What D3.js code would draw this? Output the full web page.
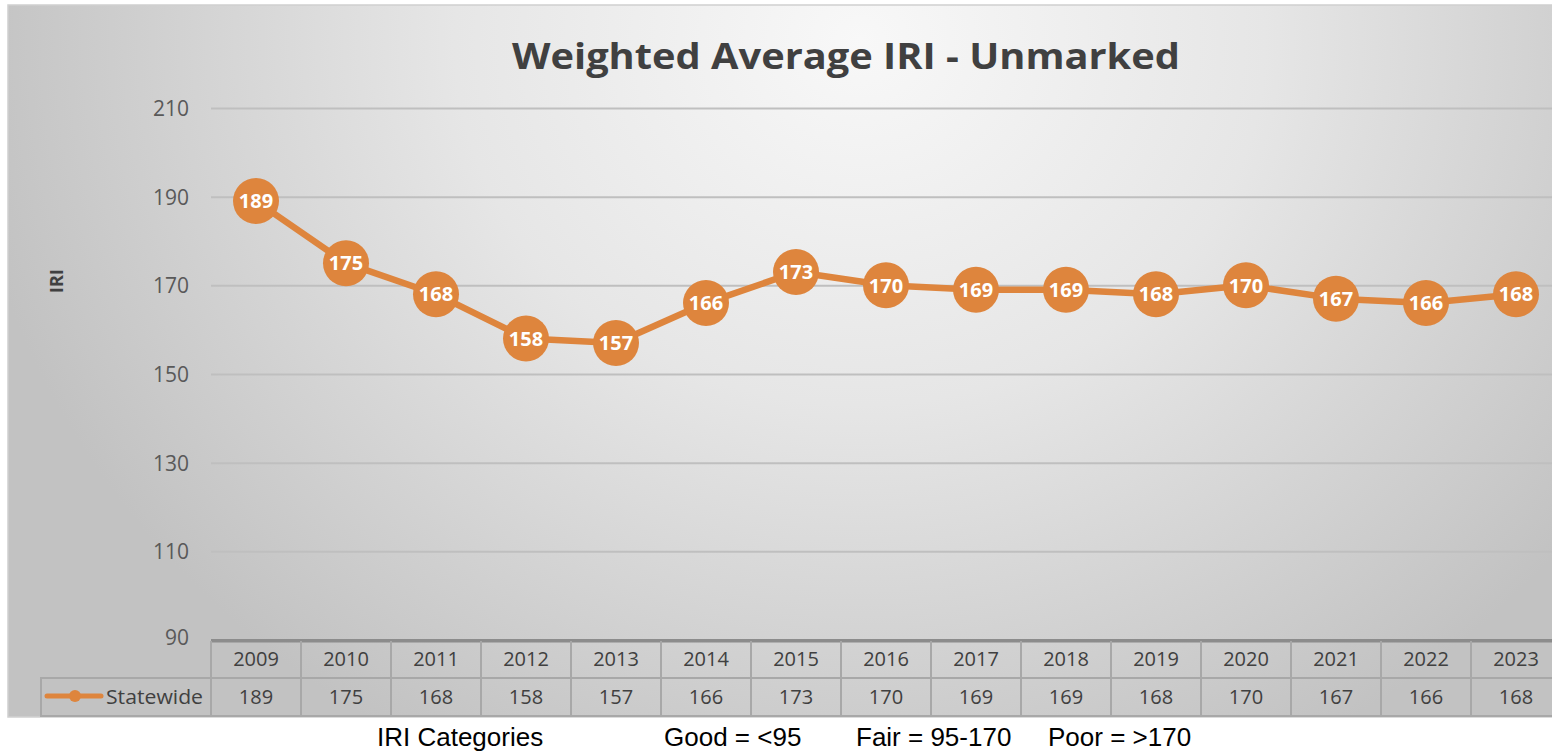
<!DOCTYPE html>
<html>
<head>
<meta charset="utf-8">
<script src="https://cdn.jsdelivr.net/npm/d3@7/dist/d3.min.js"></script>
<style>
  html, body { margin: 0; padding: 0; background: #ffffff; overflow: hidden; }
  svg { display: block; }
</style>
</head>
<body>
<svg id="chart" width="1552" height="752"></svg>
<script>
const title = "Weighted Average IRI - Unmarked";
const years = ["2009","2010","2011","2012","2013","2014","2015","2016","2017","2018","2019","2020","2021","2022","2023"];
const statewide = [189,175,168,158,157,166,173,170,169,169,168,170,167,166,168];
const seriesName = "Statewide";
const yTicks = [90,110,130,150,170,190,210];
const yAxisLabel = "IRI";
const footnotes = [
  {text: "IRI Categories", x: 377},
  {text: "Good = <95", x: 664},
  {text: "Fair = 95-170", x: 856},
  {text: "Poor = >170", x: 1048}
];

const svg = d3.select("#chart");
const W = 1552, H = 752;
const orange = "#DE853D";

// background gradient
const defs = svg.append("defs");
const rg = defs.append("radialGradient")
  .attr("id", "bg").attr("gradientUnits", "userSpaceOnUse")
  .attr("cx", 860).attr("cy", 40).attr("r", 900)
  .attr("gradientTransform", "translate(860,40) scale(1,0.9) translate(-860,-40)");
rg.append("stop").attr("offset", "0").attr("stop-color", "#f8f8f8");
rg.append("stop").attr("offset", "0.45").attr("stop-color", "#e6e6e6");
rg.append("stop").attr("offset", "1").attr("stop-color", "#c2c2c2");

svg.append("rect").attr("x", 0).attr("y", 0).attr("width", W).attr("height", H).attr("fill", "#ffffff");
svg.append("rect").attr("x", 8).attr("y", 5).attr("width", W).attr("height", 712)
  .attr("fill", "url(#bg)").attr("stroke", "#d0d0d0").attr("stroke-width", 1.5);

// scales
const x = d3.scaleBand().domain(years).range([211, 1561]).padding(0);
const y = d3.scaleLinear().domain([90, 210]).range([640, 108]);
const cx = d => x(d) + x.bandwidth() / 2;

// title
svg.append("text")
  .attr("x", 846).attr("y", 69)
  .attr("text-anchor", "middle")
  .attr("font-family", "'Open Sans', sans-serif")
  .attr("font-weight", "bold")
  .attr("font-size", 36)
  .attr("fill", "#404040")
  .attr("textLength", 668).attr("lengthAdjust", "spacingAndGlyphs")
  .text(title);

// gridlines via axis
const yAxis = d3.axisLeft(y).tickValues(yTicks).tickSize(-(1561 - 211)).tickPadding(22);
const gy = svg.append("g").attr("transform", "translate(211,0)").call(yAxis);
gy.select(".domain").remove();
gy.selectAll(".tick line").attr("stroke", "#bfbfbf").attr("stroke-width", 2)
  .filter(d => d === 90).attr("stroke", "#8c8c8c").attr("stroke-width", 3);
gy.selectAll(".tick text")
  .attr("x", -22)
  .attr("font-family", "'Open Sans', sans-serif")
  .attr("font-size", 21)
  .attr("fill", "#595959")
  .attr("dy", "0.36em");
gy.selectAll(".tick").filter(d => d === 90).select("text").attr("dy", "0.2em");

// y axis label
svg.append("text")
  .attr("transform", "translate(63,281) rotate(-90)")
  .attr("text-anchor", "middle")
  .attr("font-family", "'Open Sans', sans-serif")
  .attr("font-weight", "bold")
  .attr("font-size", 18)
  .attr("fill", "#404040")
  .text(yAxisLabel);

// line
const data = years.map((yr, i) => ({year: yr, value: statewide[i]}));
const line = d3.line().x(d => cx(d.year)).y(d => y(d.value));
svg.append("path").datum(data)
  .attr("d", line).attr("fill", "none")
  .attr("stroke", orange).attr("stroke-width", 6.5)
  .attr("stroke-linejoin", "round");

const pts = svg.append("g").selectAll("g").data(data).join("g")
  .attr("transform", d => `translate(${cx(d.year)},${y(d.value)})`);
pts.append("circle").attr("r", 23).attr("fill", orange);
pts.append("text")
  .attr("text-anchor", "middle").attr("dy", "0.36em")
  .attr("font-family", "'Open Sans', sans-serif")
  .attr("font-weight", "bold").attr("font-size", 20)
  .attr("fill", "#ffffff")
  .text(d => d.value);

// data table
const tableTop = 641, rowMid = 678, tableBot = 716;
const tg = svg.append("g");
const borderCol = "#a8a8a8";
tg.append("line").attr("x1", 211).attr("x2", 1561).attr("y1", tableTop).attr("y2", tableTop)
  .attr("stroke", "#8c8c8c").attr("stroke-width", 3);
tg.append("line").attr("x1", 40).attr("x2", 1561).attr("y1", rowMid).attr("y2", rowMid)
  .attr("stroke", borderCol).attr("stroke-width", 2);
tg.append("line").attr("x1", 40).attr("x2", 1561).attr("y1", tableBot).attr("y2", tableBot)
  .attr("stroke", borderCol).attr("stroke-width", 2);
tg.selectAll("line.v").data(years.concat(["end"])).join("line").attr("class", "v")
  .attr("x1", (d, i) => 211 + i * x.bandwidth())
  .attr("x2", (d, i) => 211 + i * x.bandwidth())
  .attr("y1", tableTop).attr("y2", tableBot)
  .attr("stroke", borderCol).attr("stroke-width", 2);
tg.append("line").attr("x1", 41).attr("x2", 41).attr("y1", rowMid).attr("y2", tableBot)
  .attr("stroke", borderCol).attr("stroke-width", 2);

const cellFont = {family: "'Open Sans', sans-serif", size: 20, fill: "#404040"};
tg.selectAll("text.yr").data(years).join("text").attr("class", "yr")
  .attr("x", d => cx(d)).attr("y", 666)
  .attr("text-anchor", "middle")
  .attr("font-family", cellFont.family).attr("font-size", cellFont.size).attr("fill", cellFont.fill)
  .text(d => d);
tg.selectAll("text.val").data(data).join("text").attr("class", "val")
  .attr("x", d => cx(d.year)).attr("y", 704)
  .attr("text-anchor", "middle")
  .attr("font-family", cellFont.family).attr("font-size", cellFont.size).attr("fill", cellFont.fill)
  .text(d => d.value);

tg.append("line").attr("x1", 47).attr("x2", 101).attr("y1", 696).attr("y2", 696)
  .attr("stroke", orange).attr("stroke-width", 5).attr("stroke-linecap", "round");
tg.append("circle").attr("cx", 75).attr("cy", 696).attr("r", 6).attr("fill", orange);
tg.append("text").attr("x", 106).attr("y", 704)
  .attr("font-family", cellFont.family).attr("font-size", cellFont.size).attr("fill", cellFont.fill)
  .attr("textLength", 97).attr("lengthAdjust", "spacingAndGlyphs")
  .text(seriesName);

// footnote
svg.append("g").selectAll("text").data(footnotes).join("text")
  .attr("x", d => d.x).attr("y", 746)
  .attr("font-family", "'Liberation Sans', Arial, sans-serif")
  .attr("font-size", 26)
  .attr("fill", "#000000")
  .text(d => d.text);
</script>
</body>
</html>
